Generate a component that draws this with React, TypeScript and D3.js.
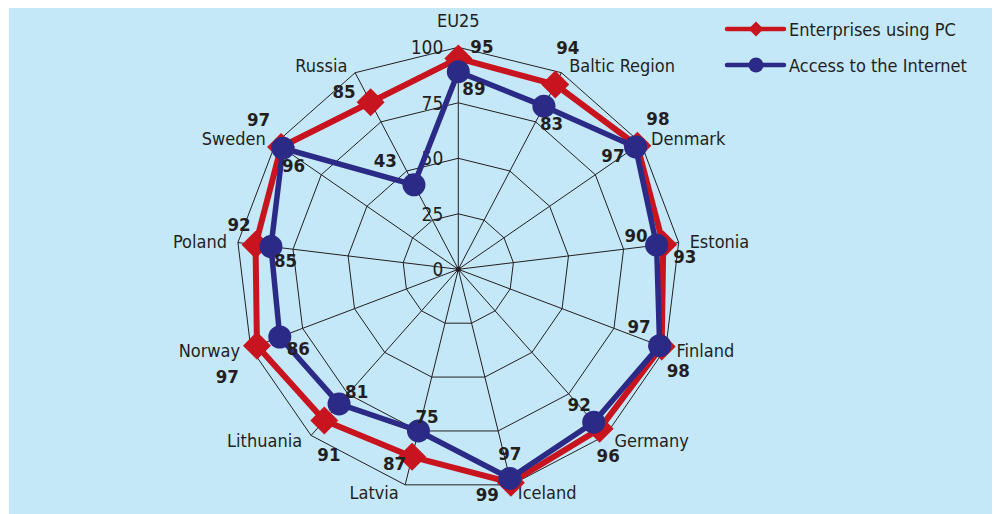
import React from 'react';
import * as d3 from 'd3';

const categories = ['EU25', 'Baltic Region', 'Denmark', 'Estonia', 'Finland', 'Germany', 'Iceland', 'Latvia', 'Lithuania', 'Norway', 'Poland', 'Sweden', 'Russia'];
const pcValues = [95, 94, 98, 93, 98, 96, 99, 87, 91, 97, 92, 97, 85];
const internetValues = [89, 83, 97, 90, 97, 92, 97, 75, 81, 86, 85, 96, 43];
const tickValues = [0, 25, 50, 75, 100];
const seriesNames = ['Enterprises using PC', 'Access to the Internet'];

// value-label placement relative to each point (dx, dy, anchor)
const pcLabelOffsets: [number, number, string][] = [
  [12, -5, 'start'], [1, -31, 'start'], [9, -21, 'start'], [10, 19, 'start'], [5, 31, 'start'],
  [-3, 33, 'start'], [-12, 18, 'end'], [-6, 13, 'end'], [-7, 40, 'start'], [-18, 37, 'end'],
  [-5, -14, 'end'], [-11, -21, 'end'], [-15, -4, 'end'],
];
const netLabelOffsets: [number, number, string][] = [
  [4, 23, 'start'], [-4, 24, 'start'], [-11, 15, 'end'], [-9, -3, 'end'], [-9, -13, 'end'],
  [-3, -11, 'end'], [0, -18, 'middle'], [-3, -8, 'start'], [6, -6, 'start'], [7, 18, 'start'],
  [3, 20, 'start'], [-1, 24, 'start'], [-17, -18, 'end'],
];

const W = 995, H = 514;
const CX = 458.3, CY = 269.3, R = 222;
const RED = '#c8141e';
const BLUE = '#2b2a86';
const INK = '#231f20';
const BG = '#c5e8f8';
const FONT = '"DejaVu Sans Condensed", "DejaVu Sans", sans-serif';
const LABEL_SIZE = 18;
const NUM_SIZE = 18.5;

export default function App() {
  const r = d3.scaleLinear().domain([0, 100]).range([0, R]);
  const a = d3.scaleLinear().domain([0, categories.length]).range([0, 2 * Math.PI]);
  const pos = (i: number, v: number): [number, number] => [CX + r(v) * Math.sin(a(i)), CY - r(v) * Math.cos(a(i))];

  const ring = d3.lineRadial<number>().angle((_, i) => a(i)).radius(d => r(d)).curve(d3.curveLinearClosed);
  const series = d3.lineRadial<number>().angle((_, i) => a(i)).radius(d => r(d)).curve(d3.curveLinearClosed);
  const diamond = d3.symbol(d3.symbolSquare, 392)();
  const legDiamond = d3.symbol(d3.symbolSquare, 112)();

  return (
    <svg width={W} height={H} style={{ position: 'absolute', left: 0, top: 0 }} fontFamily={FONT}>
      <rect x={0} y={0} width={W} height={H} fill="#ffffff" />
      <rect x={9} y={8} width={983} height={506} fill={BG} />
      <g transform={`translate(${CX},${CY})`}>
        {tickValues.filter(t => t > 0).map(t => (
          <path key={t} d={ring(categories.map(() => t)) || ''} fill="none" stroke={INK} strokeWidth={1} />
        ))}
        {categories.map((c, i) => (
          <line key={c} x1={0} y1={0} x2={r(100) * Math.sin(a(i))} y2={-r(100) * Math.cos(a(i))} stroke={INK} strokeWidth={1} />
        ))}
        <circle r={2.5} fill={INK} />
      </g>
      {tickValues.map(t => (
        <text key={t} x={CX - 15} y={CY - r(t) + 7} textAnchor="end" fontSize={19} fill={INK}>{t}</text>
      ))}
      {categories.map((c, i) => {
        const [vx, vy] = pos(i, 100);
        const s = Math.sin(a(i)), co = Math.cos(a(i));
        if (Math.abs(s) < 0.01) {
          return <text key={c} x={vx} y={vy - 20} textAnchor="middle" fontSize={LABEL_SIZE} fill={INK}>{c}</text>;
        }
        const dx = Math.sign(s) * (5 + 6 * Math.abs(s));
        const dy = 6 - 8 * co;
        return <text key={c} x={vx + dx} y={vy + dy} textAnchor={s > 0 ? 'start' : 'end'} fontSize={LABEL_SIZE} fill={INK}>{c}</text>;
      })}
      <g transform={`translate(${CX},${CY})`}>
        <path d={series(pcValues) || ''} fill="none" stroke={RED} strokeWidth={6} strokeLinejoin="round" />
      </g>
      {pcValues.map((v, i) => {
        const [x, y] = pos(i, v);
        return <path key={i} d={diamond || ''} transform={`translate(${x},${y}) rotate(45)`} fill={RED} />;
      })}
      <g transform={`translate(${CX},${CY})`}>
        <path d={series(internetValues) || ''} fill="none" stroke={BLUE} strokeWidth={5.5} strokeLinejoin="round" />
      </g>
      {internetValues.map((v, i) => {
        const [x, y] = pos(i, v);
        return <circle key={i} cx={x} cy={y} r={11.5} fill={BLUE} />;
      })}
      {pcValues.map((v, i) => {
        const [x, y] = pos(i, v);
        const [dx, dy, anc] = pcLabelOffsets[i];
        return <text key={i} x={x + dx} y={y + dy} textAnchor={anc as any} fontSize={NUM_SIZE} fontWeight="bold" fill={INK}>{v}</text>;
      })}
      {internetValues.map((v, i) => {
        const [x, y] = pos(i, v);
        const [dx, dy, anc] = netLabelOffsets[i];
        return <text key={i} x={x + dx} y={y + dy} textAnchor={anc as any} fontSize={NUM_SIZE} fontWeight="bold" fill={INK}>{v}</text>;
      })}
      <g>
        <line x1={727} y1={29} x2={784} y2={29} stroke={RED} strokeWidth={4.5} strokeLinecap="round" />
        <path d={legDiamond || ''} transform="translate(756,29) rotate(45)" fill={RED} />
        <text x={789} y={36} fontSize={LABEL_SIZE} fill={INK}>{seriesNames[0]}</text>
        <line x1={727} y1={65} x2={784} y2={65} stroke={BLUE} strokeWidth={4.5} strokeLinecap="round" />
        <circle cx={756} cy={65} r={7.5} fill={BLUE} />
        <text x={789} y={72} fontSize={LABEL_SIZE} fill={INK}>{seriesNames[1]}</text>
      </g>
    </svg>
  );
}
